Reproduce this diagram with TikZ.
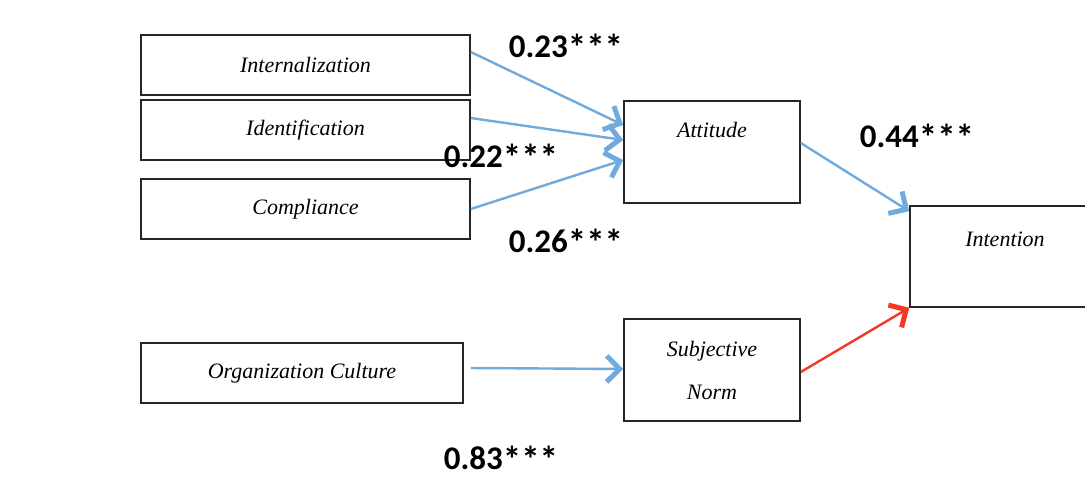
\documentclass[tikz,border=0pt]{standalone}
\usepackage{fontspec}
\setmainfont{Liberation Serif}
\newfontfamily\coeffont{Carlito}
\usetikzlibrary{positioning}
\usetikzlibrary{arrows.meta}
\definecolor{pathblue}{RGB}{111,171,221}
\definecolor{pathred}{RGB}{245,55,35}
\newcommand{\sigstars}{{\fontsize{37}{37}\selectfont\raisebox{-3pt}{***}}}
\tikzset{
construct/.style={rectangle, draw=black!85, line width=1.6pt, fill=white, align=center, inner sep=0pt, font=\fontsize{22}{25}\selectfont\itshape},
coef/.style={inner sep=0pt, font=\coeffont\bfseries\fontsize{33}{36}\selectfont},
path_arrow/.style={draw=pathblue, line width=2.4pt, -{Straight Barb[length=13pt,width=26pt,line width=5pt]}},
red_arrow/.style={path_arrow, draw=pathred}
}

\begin{document}
\begin{tikzpicture}[x=1pt, y=-1pt]
    \useasboundingbox (0,0) rectangle (1085,480);
    % exogenous constructs
    \node[construct, minimum width=329pt, minimum height=60pt] (intern) at (305.5,65) {Internalization};
    \node[construct, minimum width=329pt, minimum height=60pt] (ident) at (305.5,130) {Identification};
    \node[construct, minimum width=329pt, minimum height=60pt] (compl) at (305.5,209) {Compliance};
    \node[construct, minimum width=322pt, minimum height=60pt] (culture) at (302,373) {Organization Culture};

    % mediators and outcome
    \node[construct, minimum width=176pt, minimum height=102pt] (att) at (712,152) {Attitude\\[20pt]{}};
    \node[construct, minimum width=176pt, minimum height=102pt] (norm) at (712,370) {Subjective\\[18pt]Norm};
    \node[construct, minimum width=190pt, minimum height=101pt] (intent) at (1005,256.5) {Intention\\[10pt]{}};

    \draw[path_arrow] ([yshift=13pt]intern.east) -- ([yshift=27pt]att.west);
    \draw[path_arrow] ([yshift=12pt]ident.east) -- ([yshift=12pt]att.west);
    \draw[path_arrow] (compl.east) -- ([yshift=-8pt]att.west);
    \draw[path_arrow] ([xshift=7pt,yshift=5pt]culture.east) -- ([yshift=1pt]norm.west);
    \draw[path_arrow] ([yshift=9pt]att.east) -- ([yshift=-6pt]intent.north west);
    \draw[red_arrow] ([yshift=-2pt]norm.east) -- (intent.south west);

    % path coefficients
    \node[coef] (c_intern) at (566,47) {0.23\sigstars};
    \node[coef] (c_ident) at (501,157) {0.22\sigstars};
    \node[coef] (c_compl) at (566,242) {0.26\sigstars};
    \node[coef] (c_att) at (917,137) {0.44\sigstars};
    \node[coef] (c_culture) at (501,459) {0.83\sigstars};
\end{tikzpicture}
\end{document}
